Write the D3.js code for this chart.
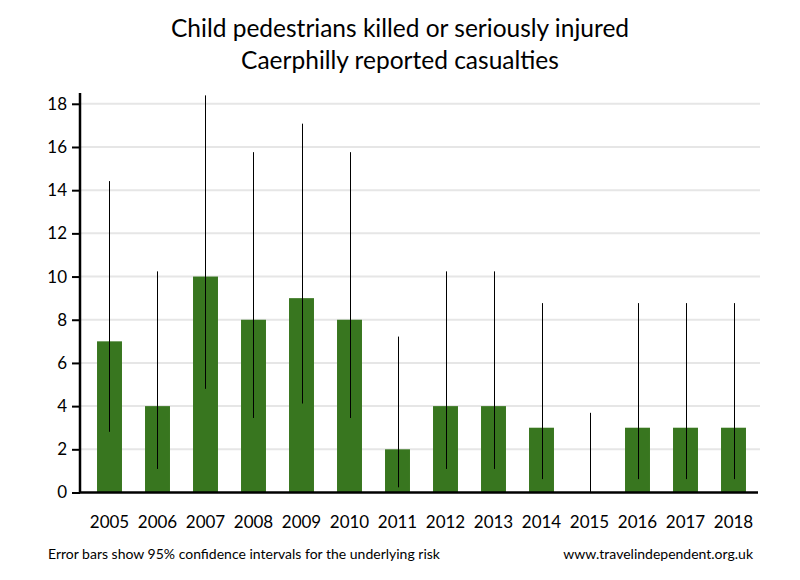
<!DOCTYPE html>
<html>
<head>
<meta charset="utf-8">
<script src="https://cdn.jsdelivr.net/npm/d3@7"></script>
<style>
  body { margin: 0; background: #fff; }
  #chart { width: 800px; height: 580px; }
  text { font-family: Lato, "Open Sans", sans-serif; fill: #000; }
</style>
</head>
<body>
<div id="chart"></div>
<script>
const years = ["2005", "2006", "2007", "2008", "2009", "2010", "2011", "2012", "2013", "2014", "2015", "2016", "2017", "2018"];
const casualties = [7, 4, 10, 8, 9, 8, 2, 4, 4, 3, 0, 3, 3, 3];
// 95% confidence interval ends
const lowerCI = [2.81, 1.09, 4.8, 3.45, 4.12, 3.45, 0.24, 1.09, 1.09, 0.62, 0, 0.62, 0.62, 0.62];
const upperCI = [14.42, 10.24, 18.39, 15.76, 17.08, 15.76, 7.22, 10.24, 10.24, 8.77, 3.69, 8.77, 8.77, 8.77];
const yTicks = [0, 2, 4, 6, 8, 10, 12, 14, 16, 18];

const width = 800, height = 580;
const svg = d3.select("#chart").append("svg").attr("width", width).attr("height", height);

const x = d3.scaleBand().domain(years).range([85.5, 757.5]).paddingInner(0.48).paddingOuter(0.24);
const y = d3.scaleLinear().domain([0, 18.5]).range([492.5, 93]);

// gridlines
svg.append("g")
	.selectAll("line")
	.data(yTicks.filter(d => d > 0))
	.join("line")
	.attr("x1", 80).attr("x2", 760)
	.attr("y1", d => y(d)).attr("y2", d => y(d))
	.attr("stroke", "#e6e6e6").attr("stroke-width", 2);

// bars
svg.append("g")
	.selectAll("rect")
	.data(years)
	.join("rect")
	.attr("x", d => x(d))
	.attr("width", x.bandwidth())
	.attr("y", (d, i) => y(casualties[i]))
	.attr("height", (d, i) => y(0) - y(casualties[i]))
	.attr("fill", "#38761f");

// error bars
svg.append("g")
	.selectAll("line")
	.data(years)
	.join("line")
	.attr("x1", d => Math.round(x(d) + x.bandwidth() / 2) + 0.5)
	.attr("x2", d => Math.round(x(d) + x.bandwidth() / 2) + 0.5)
	.attr("y1", (d, i) => y(lowerCI[i]))
	.attr("y2", (d, i) => y(upperCI[i]))
	.attr("stroke", "#000").attr("stroke-width", 1);

// y axis
const yAxis = svg.append("g")
	.attr("transform", "translate(80,0)")
	.call(d3.axisLeft(y).tickValues(yTicks).tickSize(8).tickPadding(5));
yAxis.select(".domain").attr("stroke-width", 2.5).attr("d", `M0,${y(18.5)}V${y(0)}`);
yAxis.selectAll(".tick line").attr("stroke-width", 2);
yAxis.selectAll(".tick text").style("font-size", "17px").style("font-family", "Lato, sans-serif");

// baseline
svg.append("line")
	.attr("x1", 79).attr("x2", 758)
	.attr("y1", y(0)).attr("y2", y(0))
	.attr("stroke", "#000").attr("stroke-width", 2.5);

// x labels
svg.append("g")
	.selectAll("text")
	.data(years)
	.join("text")
	.attr("x", d => x(d) + x.bandwidth() / 2)
	.attr("y", 528)
	.attr("text-anchor", "middle")
	.style("font-size", "17px")
	.text(d => d);

// title
const title = ["Child pedestrians killed or seriously injured", "Caerphilly reported casualties"];
svg.append("g")
	.selectAll("text")
	.data(title)
	.join("text")
	.attr("x", 400)
	.attr("y", (d, i) => 37 + i * 32)
	.attr("text-anchor", "middle")
	.style("font-size", "24.5px")
	.text(d => d);

// footer
svg.append("text").attr("x", 48).attr("y", 559).style("font-size", "14px")
	.text("Error bars show 95% confidence intervals for the underlying risk");
svg.append("text").attr("x", 753).attr("y", 559).attr("text-anchor", "end").style("font-size", "14px")
	.text("www.travelindependent.org.uk");
</script>
</body>
</html>
